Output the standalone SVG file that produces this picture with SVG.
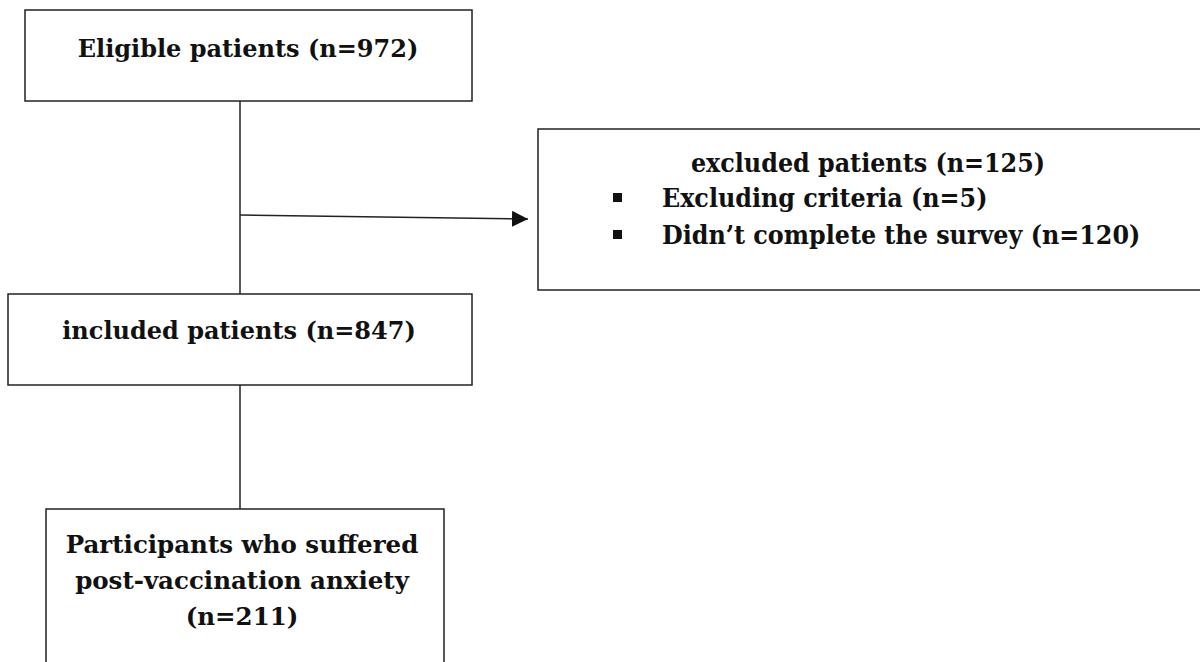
<svg xmlns="http://www.w3.org/2000/svg" width="1200" height="662" viewBox="0 0 1200 662">
<style>
.box{fill:#fff;stroke:#222;stroke-width:1.5}
.t{font-family:"DejaVu Serif","Liberation Serif",serif;font-weight:bold;font-size:24px;fill:#111}
.c{font-family:"DejaVu Serif Condensed","DejaVu Serif","Liberation Serif",serif;font-weight:bold;font-size:26.5px;fill:#111}
.ln{stroke:#222;stroke-width:1.5;fill:none}
</style>
<defs>
<marker id="ah" viewBox="0 0 16 16" refX="16" refY="8" markerWidth="16" markerHeight="16" markerUnits="userSpaceOnUse" orient="auto">
<path d="M0,0 L16,8 L0,16 Z" fill="#111"/>
</marker>
</defs>
<rect width="1200" height="662" fill="#fff"/>
<g id="connectors">
<line class="ln" x1="240" y1="101" x2="240" y2="294"/>
<line class="ln" x1="240" y1="215" x2="528" y2="219" marker-end="url(#ah)"/>
<line class="ln" x1="240" y1="385" x2="240" y2="509"/>
</g>
<g id="eligible">
<rect class="box" x="25" y="10" width="447" height="91"/>
<text class="t" x="248" y="57" text-anchor="middle">Eligible patients (n=972)</text>
</g>
<g id="excluded">
<rect class="box" x="538" y="129" width="680" height="161"/>
<text class="c" x="868" y="172" text-anchor="middle">excluded patients (n=125)</text>
<rect x="613" y="193" width="9" height="9" fill="#111"/>
<text class="c" x="662" y="207">Excluding criteria (n=5)</text>
<rect x="613" y="230" width="9" height="9" fill="#111"/>
<text class="c" x="662" y="244">Didn’t complete the survey (n=120)</text>
</g>
<g id="included">
<rect class="box" x="8" y="294" width="464" height="91"/>
<text class="t" x="239" y="339" text-anchor="middle">included patients (n=847)</text>
</g>
<g id="participants">
<rect class="box" x="46" y="509" width="398" height="170"/>
<text class="t" x="242" y="553" style="font-size:24.5px" text-anchor="middle">Participants who suffered</text>
<text class="t" x="242" y="589" style="font-size:24.5px" text-anchor="middle">post-vaccination anxiety</text>
<text class="t" x="242" y="625" style="font-size:24.5px" text-anchor="middle">(n=211)</text>
</g>
</svg>
